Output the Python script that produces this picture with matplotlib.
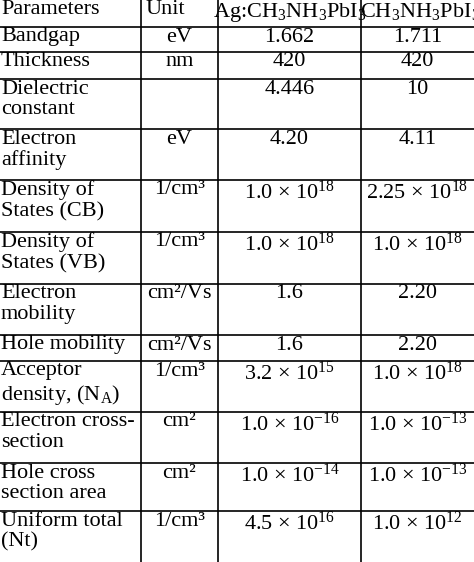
import matplotlib
matplotlib.use("Agg")
import matplotlib.pyplot as plt

plt.rcParams['font.family'] = ['Liberation Serif', 'DejaVu Serif']
plt.rcParams['mathtext.fontset'] = 'custom'
plt.rcParams['mathtext.rm'] = 'Liberation Serif'
plt.rcParams['mathtext.it'] = 'Liberation Serif:italic'

headers = ["Parameters", "Unit", "Ag:CH$_3$NH$_3$PbI$_3$", "CH$_3$NH$_3$PbI$_3$"]
params = ["Bandgap", "Thickness", "Dielectric\nconstant", "Electron\naffinity",
          "Density of\nStates (CB)", "Density of\nStates (VB)", "Electron\nmobility",
          "Hole mobility", "Acceptor\ndensity, (N$_\\mathrm{A}$)", "Electron cross-\nsection",
          "Hole cross\nsection area", "Uniform total\n(Nt)"]
units = ["eV", "nm", "", "eV", "1/cm³", "1/cm³", "cm²/Vs", "cm²/Vs", "1/cm³", "cm²", "cm²", "1/cm³"]
ag_vals = ["1.662", "420", "4.446", "4.20", "1.0 × 10$^{18}$", "1.0 × 10$^{18}$", "1.6", "1.6",
           "3.2 × 10$^{15}$", "1.0 × 10$^{-16}$", "1.0 × 10$^{-14}$", "4.5 × 10$^{16}$"]
mapi_vals = ["1.711", "420", "10", "4.11", "2.25 × 10$^{18}$", "1.0 × 10$^{18}$", "2.20", "2.20",
             "1.0 × 10$^{18}$", "1.0 × 10$^{-13}$", "1.0 × 10$^{-13}$", "1.0 × 10$^{12}$"]

W, H = 474, 562
fig = plt.figure(figsize=(W/100, H/100), dpi=100)
ax = fig.add_axes([0, 0, 1, 1])
ax.set_xlim(0, W); ax.set_ylim(H, 0); ax.axis('off')

col_x = [0, 141, 218, 361, 474]
row_y = [0, 27, 52, 79, 129, 180, 232, 284, 335, 361, 412, 463, 511, 562]
fs = 16

for y in row_y[1:-1]:
    ax.plot([0, W], [y, y], color='black', lw=1.2)
for x in col_x[1:-1]:
    ax.plot([x, x], [0, H], color='black', lw=1.2)

def top_text(x, y, s, ha):
    ax.text(x, y + 0.5, s, ha=ha, va='top', fontsize=fs, linespacing=1.12)

top_text(1, 0, headers[0], 'left')
top_text(146, 0, headers[1], 'left')
top_text((col_x[2]+col_x[3])/2, 0, headers[2], 'center')
top_text((col_x[3]+col_x[4])/2 + 3, 0, headers[3], 'center')

for i in range(len(params)):
    y = row_y[i+1]
    top_text(1, y, params[i], 'left')
    top_text((col_x[1]+col_x[2])/2, y, units[i], 'center')
    top_text((col_x[2]+col_x[3])/2, y, ag_vals[i], 'center')
    top_text((col_x[3]+col_x[4])/2, y, mapi_vals[i], 'center')

fig.savefig("out.png", dpi=100)
